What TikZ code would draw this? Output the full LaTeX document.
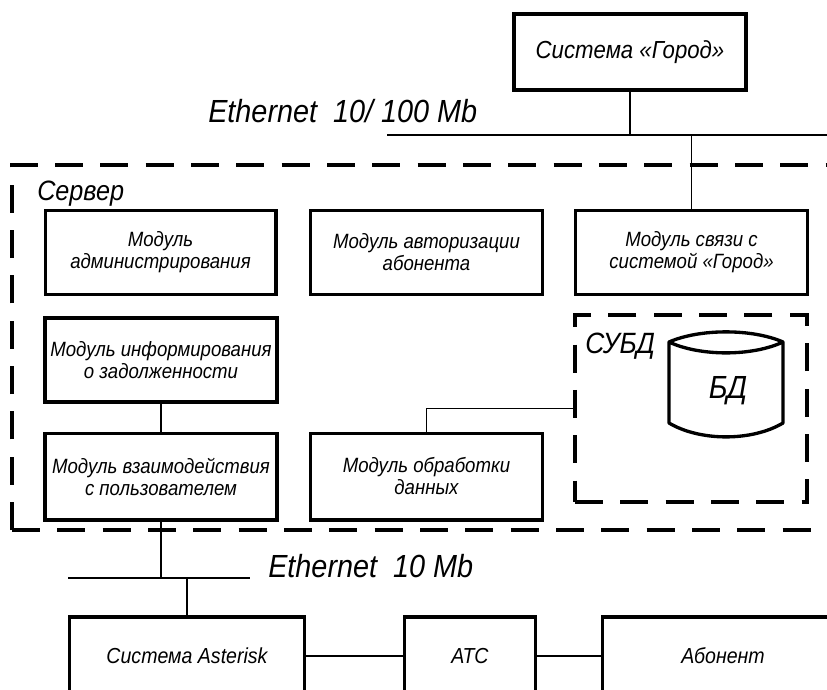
\documentclass[tikz,border=0pt]{standalone}
\usepackage{fontspec}
\setmainfont{Liberation Sans}[FakeStretch=0.9]
\begin{document}
\begin{tikzpicture}[x=0.75pt,y=-0.75pt,
  box/.style={draw, line width=2.5pt, align=center, inner sep=0pt,
    font=\itshape\fontsize{15.5}{16.5}\selectfont},
  lowbox/.style={box, font=\itshape\fontsize{16.3}{18}\selectfont},
  conn/.style={line width=1pt},
  dsh/.style={line width=2.6pt, dash pattern=on 21pt off 13pt},
  biglabel/.style={font=\itshape\fontsize{24}{28}\selectfont, inner sep=0pt, anchor=base west},
  midlabel/.style={font=\itshape\fontsize{21}{25}\selectfont, inner sep=0pt, anchor=base west}]
\useasboundingbox (0,0) rectangle (827,689);
\clip (0,0) rectangle (827,689);

% top system
\node[box, font=\itshape\fontsize{18.5}{20}\selectfont, minimum width=174pt, minimum height=57pt] (gorod) at (630,52) {Система «Город»};
\node[biglabel] (eth1) at (208,122) {Ethernet\ \ 10/ 100 Mb};
\coordinate (n1l) at (387,135);
\coordinate (n1r) at (830,135);
\draw[conn] (n1l) -- (n1r);
\draw[conn] (gorod.south) -- (gorod.south |- n1l);

% server
\draw[dsh] (12,530) -- (12,165) -- (900,165);
\draw[dsh] (12,530) -- (900,530);
\node[midlabel] (server) at (37,200) {Сервер};

\node[box, minimum width=173pt, minimum height=63pt] (admin) at (160.5,252.5) {Модуль\\администрирования};
\node[box, minimum width=174pt, minimum height=63pt] (auth) at (426.5,252.5) {Модуль авторизации\\абонента};
\node[box, minimum width=174pt, minimum height=63pt] (svyaz) at (691.5,252.5) {Модуль связи с\\системой «Город»};
\draw[conn] (svyaz.north |- n1l) -- (svyaz.north);

\node[box, minimum width=174pt, minimum height=63pt] (inform) at (161,360) {Модуль информирования\\о задолженности};
\node[box, minimum width=174pt, minimum height=65pt] (vzaim) at (161,476.5) {Модуль взаимодействия\\с пользователем};
\node[box, minimum width=174pt, minimum height=65pt] (obrab) at (426.5,476.5) {Модуль обработки\\данных};
\draw[conn] (inform.south) -- (vzaim.north);

% DBMS
\node[dsh, draw, minimum width=174pt, minimum height=140pt] (subd) at (691,408.5) {};
\node[midlabel, font=\itshape\fontsize{22}{25}\selectfont] (subdlabel) at (585,353) {СУБД};
\draw[line width=2.5pt, line join=round] (669,342) .. controls (700,328.5) and (752,328.5) .. (783,342)
  .. controls (752,356.5) and (700,356.5) .. (669,342) -- (669,423)
  .. controls (700,441.5) and (752,441.5) .. (783,423) -- (783,342);
\node[font=\itshape\fontsize{24}{26}\selectfont, inner sep=0pt] (bd) at (728,391) {БД};
\draw[conn] (obrab.north) |- (subd.west);

% lower network
\coordinate (n2l) at (68,578);
\coordinate (n2r) at (250,578);
\draw[conn] (n2l) -- (n2r);
\draw[conn] (vzaim.south) -- (vzaim.south |- n2l);
\node[biglabel] (eth2) at (268,577) {Ethernet\ \ 10 Mb};

\node[lowbox, minimum width=176pt, minimum height=58.5pt] (asterisk) at (187,656) {Система Asterisk};
\node[lowbox, minimum width=98pt, minimum height=58.5pt] (ats) at (470,656) {АТС};
\node[lowbox, minimum width=181pt, minimum height=58.5pt] (abonent) at (723,656) {Абонент};
\draw[conn] (asterisk.north |- n2l) -- (asterisk.north);
\draw[conn] (asterisk.east) -- (ats.west);
\draw[conn] (ats.east) -- (abonent.west);
\end{tikzpicture}
\end{document}
